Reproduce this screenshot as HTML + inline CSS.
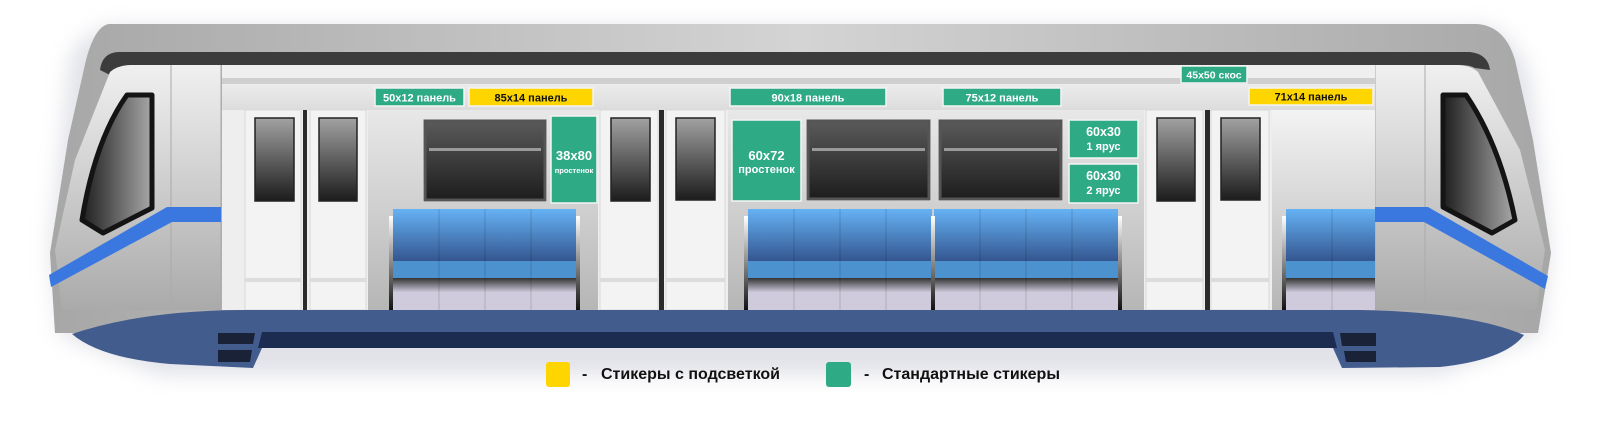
<!DOCTYPE html>
<html><head><meta charset="utf-8">
<style>
html,body{margin:0;padding:0;background:#fff;}
body{width:1600px;height:443px;overflow:hidden;position:relative;font-family:"Liberation Sans","DejaVu Sans",sans-serif;}
svg{position:absolute;left:0;top:0;}
.lg{position:absolute;font-weight:bold;font-size:16px;color:#111;top:365px;line-height:20px;}
</style></head><body>
<svg width="1600" height="443" viewBox="0 0 1600 443" xmlns="http://www.w3.org/2000/svg">
<defs>
<linearGradient id="shell" x1="0" x2="1" y1="0" y2="0">
<stop offset="0" stop-color="#a6a7a6"/><stop offset="0.5" stop-color="#d4d4d4"/><stop offset="1" stop-color="#a6a7a6"/></linearGradient>
<linearGradient id="nose" x1="0" x2="0" y1="0" y2="1">
<stop offset="0" stop-color="#f0f0f0"/><stop offset="1" stop-color="#a9aaa9"/></linearGradient>
<linearGradient id="wall" x1="0" x2="0" y1="0" y2="1">
<stop offset="0" stop-color="#f3f3f3"/><stop offset="1" stop-color="#b5b6b5"/></linearGradient>
<linearGradient id="win" x1="0" x2="0" y1="0" y2="1">
<stop offset="0" stop-color="#a2a2a2"/><stop offset="1" stop-color="#1c1c1c"/></linearGradient>
<linearGradient id="fwin" x1="0" x2="1" y1="0" y2="0">
<stop offset="0" stop-color="#1e1e1e"/><stop offset="1" stop-color="#a8a8a8"/></linearGradient>
<linearGradient id="bwin" x1="0" x2="0" y1="0" y2="1">
<stop offset="0" stop-color="#5a5a5a"/><stop offset="1" stop-color="#1d1d1d"/></linearGradient>
<linearGradient id="seat" x1="0" x2="0" y1="0" y2="1">
<stop offset="0" stop-color="#66b2f5"/><stop offset="1" stop-color="#34568f"/></linearGradient>
<linearGradient id="under" x1="0" x2="0" y1="0" y2="1">
<stop offset="0" stop-color="#333"/><stop offset="0.45" stop-color="#cfcbdd"/><stop offset="1" stop-color="#cfcbdd"/></linearGradient>
<linearGradient id="pole" x1="0" x2="0" y1="0" y2="1">
<stop offset="0" stop-color="#fff"/><stop offset="1" stop-color="#111"/></linearGradient>
<linearGradient id="top" x1="0" x2="0" y1="0" y2="1">
<stop offset="0" stop-color="#ececec"/><stop offset="1" stop-color="#dcdcdc"/></linearGradient>
<filter id="sh" x="-5%" y="-10%" width="110%" height="130%"><feGaussianBlur stdDeviation="10"/></filter>
<symbol id="seatS" viewBox="0 0 185 101" preserveAspectRatio="none"></symbol>
</defs>
<!-- shadow -->
<path d="M70 60 Q80 30 120 26 L1480 26 Q1515 30 1530 80 L1550 250 L1540 335 L1440 375 L160 375 L60 335 L50 250 Z" fill="#c9cbd6" opacity="0.55" filter="url(#sh)"/>
<!-- shell -->
<path d="M109 24 L1477 24 Q1505 26 1515 60 L1533 140 L1551 253 L1538 333 L55 333 L50 253 L68 140 L86 60 Q95 26 109 24 Z" fill="url(#shell)"/>
<!-- dark top stripe -->
<path d="M100 70 Q102 53 118 52 L1470 52 Q1488 54 1490 70 L1475 68 Q1470 65 1460 65 L130 65 Q115 66 110 75 Z" fill="#3c3c3c"/>
<!-- nose faces -->
<path d="M110 72 Q118 65 132 65 L221 65 L221 310 L62 310 L55 250 L75 160 Z" fill="url(#nose)"/>
<path d="M1478 72 Q1470 65 1456 65 L1375 65 L1375 310 L1536 310 L1545 250 L1520 150 Z" fill="url(#nose)"/>
<rect x="171" y="65" width="50" height="245" fill="url(#nose)"/>
<rect x="1375" y="65" width="50" height="245" fill="url(#nose)"/>
<line x1="171" y1="65" x2="171" y2="310" stroke="#aaa" stroke-width="1"/>
<line x1="221" y1="65" x2="221" y2="310" stroke="#aaa" stroke-width="1"/>
<line x1="1375" y1="65" x2="1375" y2="310" stroke="#aaa" stroke-width="1"/>
<line x1="1425" y1="65" x2="1425" y2="310" stroke="#aaa" stroke-width="1"/>
<!-- side body -->
<rect x="222" y="65" width="1153" height="245" fill="url(#wall)"/>
<rect x="222" y="65" width="1153" height="13" fill="#efefef"/>
<rect x="222" y="78" width="1153" height="6" fill="#cfcfcf"/>
<rect x="222" y="84" width="1153" height="26" fill="url(#top)"/>
<!-- light areas around doors -->
<rect x="222" y="110" width="146" height="200" fill="#eeeeee"/>
<rect x="598" y="110" width="130" height="200" fill="#eeeeee"/>
<rect x="1144" y="110" width="231" height="200" fill="url(#wall)"/>
<rect x="1144" y="110" width="128" height="200" fill="#eeeeee"/>
<!-- doors -->
<g fill="#f3f3f3" stroke="#d8d8d8" stroke-width="1">
<rect x="245" y="110" width="56" height="200"/><rect x="310" y="110" width="56" height="200"/>
<rect x="600" y="110" width="58" height="200"/><rect x="666" y="110" width="59" height="200"/>
<rect x="1146" y="110" width="57" height="200"/><rect x="1211" y="110" width="58" height="200"/>
</g>
<g fill="#dcdcdc">
<rect x="245" y="278" width="56" height="4"/><rect x="310" y="278" width="56" height="4"/>
<rect x="600" y="278" width="58" height="4"/><rect x="666" y="278" width="59" height="4"/>
<rect x="1146" y="278" width="57" height="4"/><rect x="1211" y="278" width="58" height="4"/>
</g>
<g fill="#2a2a2a">
<rect x="303" y="110" width="4" height="200"/><rect x="659" y="110" width="5" height="200"/><rect x="1205" y="110" width="5" height="200"/>
</g>
<g fill="url(#win)" stroke="#222" stroke-width="1.5">
<rect x="255" y="118" width="39" height="83"/><rect x="319" y="118" width="38" height="83"/>
<rect x="611" y="118" width="39" height="83"/><rect x="676" y="118" width="39" height="82"/>
<rect x="1157" y="118" width="38" height="83"/><rect x="1221" y="118" width="39" height="82"/>
</g>
<!-- big windows -->
<g>
<rect x="423" y="120" width="124" height="82" fill="#f5f5f5"/>
<rect x="425" y="121" width="120" height="79" fill="url(#bwin)" stroke="#555" stroke-width="3"/>
<rect x="429" y="148" width="112" height="3" fill="#9a9a9a"/>
<rect x="806" y="120" width="125" height="81" fill="#f5f5f5"/>
<rect x="808" y="121" width="121" height="78" fill="url(#bwin)" stroke="#555" stroke-width="3"/>
<rect x="812" y="148" width="113" height="3" fill="#9a9a9a"/>
<rect x="938" y="120" width="125" height="81" fill="#f5f5f5"/>
<rect x="940" y="121" width="121" height="78" fill="url(#bwin)" stroke="#555" stroke-width="3"/>
<rect x="944" y="148" width="113" height="3" fill="#9a9a9a"/>
</g>
<!-- seats -->
<g>
<rect x="393" y="209" width="183" height="52" fill="url(#seat)"/>
<rect x="393" y="261" width="183" height="17" fill="#4b92cf"/>
<rect x="393" y="278" width="183" height="32" fill="url(#under)"/>
<rect x="748" y="209" width="184" height="52" fill="url(#seat)"/>
<rect x="748" y="261" width="184" height="17" fill="#4b92cf"/>
<rect x="748" y="278" width="184" height="32" fill="url(#under)"/>
<rect x="934" y="209" width="184" height="52" fill="url(#seat)"/>
<rect x="934" y="261" width="184" height="17" fill="#4b92cf"/>
<rect x="934" y="278" width="184" height="32" fill="url(#under)"/>
<rect x="1286" y="209" width="89" height="52" fill="url(#seat)"/>
<rect x="1286" y="261" width="89" height="17" fill="#4b92cf"/>
<rect x="1286" y="278" width="89" height="32" fill="url(#under)"/>
<g stroke="#000" stroke-opacity="0.08" stroke-width="2">
<line x1="439" y1="209" x2="439" y2="310"/><line x1="485" y1="209" x2="485" y2="310"/><line x1="531" y1="209" x2="531" y2="310"/>
<line x1="794" y1="209" x2="794" y2="310"/><line x1="840" y1="209" x2="840" y2="310"/><line x1="886" y1="209" x2="886" y2="310"/>
<line x1="980" y1="209" x2="980" y2="310"/><line x1="1026" y1="209" x2="1026" y2="310"/><line x1="1072" y1="209" x2="1072" y2="310"/>
<line x1="1332" y1="209" x2="1332" y2="310"/>
</g>
<g fill="url(#pole)">
<rect x="389" y="216" width="4" height="94"/><rect x="576" y="216" width="4" height="94"/>
<rect x="744" y="216" width="4" height="94"/><rect x="931" y="216" width="4" height="94"/>
<rect x="1118" y="216" width="4" height="94"/><rect x="1282" y="216" width="4" height="94"/>
</g>
</g>
<!-- front windows -->
<path d="M127 95 L152 95 L152 208 L103 233 L82 220 Q95 140 127 95 Z" fill="url(#fwin)" stroke="#141414" stroke-width="5" stroke-linejoin="round"/>
<path d="M1441 95 L1464 95 Q1498 150 1512 220 L1490 233 L1442 205 Z" fill="url(#fwin)" transform="translate(2953 0) scale(-1 1)" opacity="0"/>
<path d="M1443 95 L1466 95 Q1500 145 1515 220 L1492 233 L1443 207 Z" fill="url(#fwin)" stroke="#141414" stroke-width="5" stroke-linejoin="round"/>
<!-- blue stripes -->
<path d="M221 207 L167 207 L49 275 L51 287 L172 222 L221 222 Z" fill="#3a78e0"/>
<path d="M1375 207 L1428 207 L1548 276 L1545 289 L1424 222 L1375 222 Z" fill="#3a78e0"/>
<!-- skirt -->
<path d="M72 334 Q140 311 240 310 L1360 310 Q1470 312 1524 335 Q1505 360 1440 367 L1342 368 L1333 348 L262 348 L253 368 L170 364 Q100 358 72 334 Z" fill="#435c8e"/>
<path d="M262 332 L1333 332 L1337 348 L258 348 Z" fill="#1c2b50"/>
<g fill="#1a2238">
<path d="M218 333 L255 333 L253 344 L218 344 Z"/><path d="M218 350 L252 350 L250 362 L218 362 Z"/>
<path d="M1340 333 L1376 333 L1376 346 L1342 346 Z"/><path d="M1344 351 L1376 351 L1376 362 L1346 362 Z"/>
</g>
<!-- stickers -->
<g stroke="#f4f4f4" stroke-width="1.5">
<rect x="375" y="88" width="89" height="18" fill="#2eaa85"/>
<rect x="469" y="88" width="124" height="18" fill="#ffd500"/>
<rect x="551" y="116" width="46" height="87" fill="#2eaa85"/>
<rect x="730" y="88" width="156" height="18" fill="#2eaa85"/>
<rect x="943" y="88" width="118" height="18" fill="#2eaa85"/>
<rect x="732" y="120" width="69" height="81" fill="#2eaa85"/>
<rect x="1069" y="120" width="69" height="38" fill="#2eaa85"/>
<rect x="1069" y="164" width="69" height="39" fill="#2eaa85"/>
<rect x="1181" y="66" width="66" height="17" fill="#2eaa85"/>
<rect x="1249" y="88" width="124" height="17" fill="#ffd500"/>
</g>
<g font-family="Liberation Sans, DejaVu Sans, sans-serif" font-weight="bold" text-anchor="middle" fill="#fff">
<text x="419.5" y="101.5" font-size="11">50x12 панель</text>
<text x="531" y="101.5" font-size="11" fill="#111">85x14 панель</text>
<text x="574" y="160" font-size="13">38x80</text>
<text x="574" y="173" font-size="7.5">простенок</text>
<text x="808" y="101.5" font-size="11">90x18 панель</text>
<text x="1002" y="101.5" font-size="11">75x12 панель</text>
<text x="766.5" y="160" font-size="13">60x72</text>
<text x="766.5" y="173" font-size="11">простенок</text>
<text x="1103.5" y="136" font-size="12.5">60x30</text>
<text x="1103.5" y="150" font-size="11">1 ярус</text>
<text x="1103.5" y="180" font-size="12.5">60x30</text>
<text x="1103.5" y="194" font-size="11">2 ярус</text>
<text x="1214" y="78.5" font-size="10.5">45x50 скос</text>
<text x="1311" y="100.5" font-size="11" fill="#111">71x14 панель</text>
</g>
<!-- legend -->
<rect x="546" y="362" width="24" height="25" rx="3" fill="#ffd500"/>
<rect x="826" y="362" width="25" height="25" rx="3" fill="#2eaa85"/>
</svg>
<div class="lg" style="left:582px;">-</div>
<div class="lg" style="left:601px;">Стикеры с подсветкой</div>
<div class="lg" style="left:864px;">-</div>
<div class="lg" style="left:882px;">Стандартные стикеры</div>
</body></html>
